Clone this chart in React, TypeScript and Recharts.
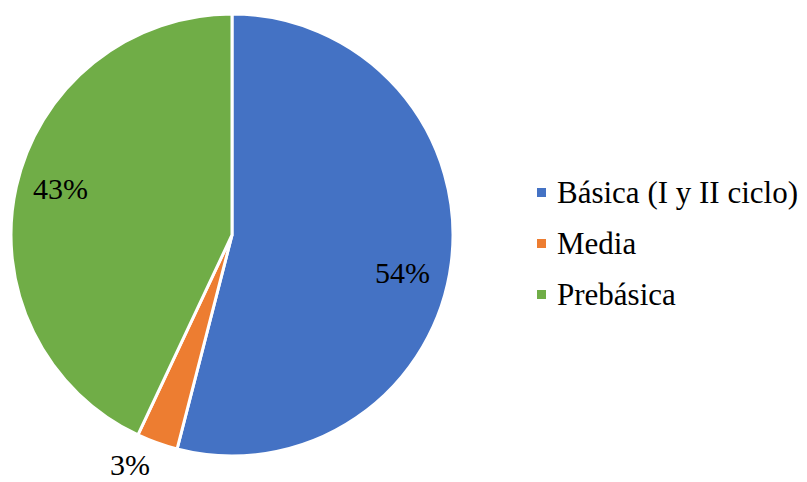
import React from 'react';
import { PieChart, Pie, Cell } from 'recharts';

const categories = ['Básica (I y II ciclo)', 'Media', 'Prebásica'];
const shares = [54, 3, 43];
const colors = ['#4472C4', '#ED7D31', '#70AD47'];

const data = categories.map((name, i) => ({ name, value: shares[i] }));
const total = shares.reduce((s, v) => s + v, 0);

const FONT = "'Liberation Serif', 'Times New Roman', serif";
const RAD = Math.PI / 180;

// label placement tweaks (angle offset in degrees, radius as fraction of outer radius)
const labelTweak = [
  { da: -5.3, rf: 0.79 },
  { da: -4.2, rf: 1.135 },
  { da: -2.7, rf: 0.805 },
];

const renderLabel = (props: any) => {
  const { cx, cy, midAngle, outerRadius, value, index } = props;
  const t = labelTweak[index] || { da: 0, rf: 0.8 };
  const a = (midAngle + t.da) * RAD;
  const r = outerRadius * t.rf;
  const x = cx + r * Math.cos(a);
  const y = cy - r * Math.sin(a);
  return (
    <text
      key={`label-${index}`}
      x={x}
      y={y}
      fill="#000"
      stroke="none"
      textAnchor="middle"
      dominantBaseline="central"
      style={{ fontFamily: FONT, fontSize: 30 }}
    >
      {`${Math.round((value / total) * 100)}%`}
    </text>
  );
};

const App = () => {
  return (
    <div style={{ position: 'absolute', left: 0, top: 0, width: 807, height: 482, background: '#fff', fontFamily: FONT }}>
      <PieChart width={807} height={482} margin={{ top: 0, right: 0, bottom: 0, left: 0 }}>
        <Pie
          data={data}
          dataKey="value"
          cx={232}
          cy={235}
          outerRadius={221}
          startAngle={90}
          endAngle={-270}
          stroke="#fff"
          strokeWidth={3}
          label={renderLabel}
          labelLine={false}
          isAnimationActive={false}
        >
          {data.map((entry, index) => (
            <Cell key={`cell-${index}`} fill={colors[index]} />
          ))}
        </Pie>
      </PieChart>
      <div style={{ position: 'absolute', left: 537, top: 167, fontSize: 31, color: '#000' }}>
        {categories.map((name, i) => (
          <div key={`legend-${i}`} style={{ display: 'flex', alignItems: 'center', height: 51 }}>
            <div style={{ width: 9, height: 9, flexShrink: 0, backgroundColor: colors[i], marginRight: 11 }} />
            <span style={{ whiteSpace: 'nowrap' }}>{name}</span>
          </div>
        ))}
      </div>
    </div>
  );
};

export default App;
